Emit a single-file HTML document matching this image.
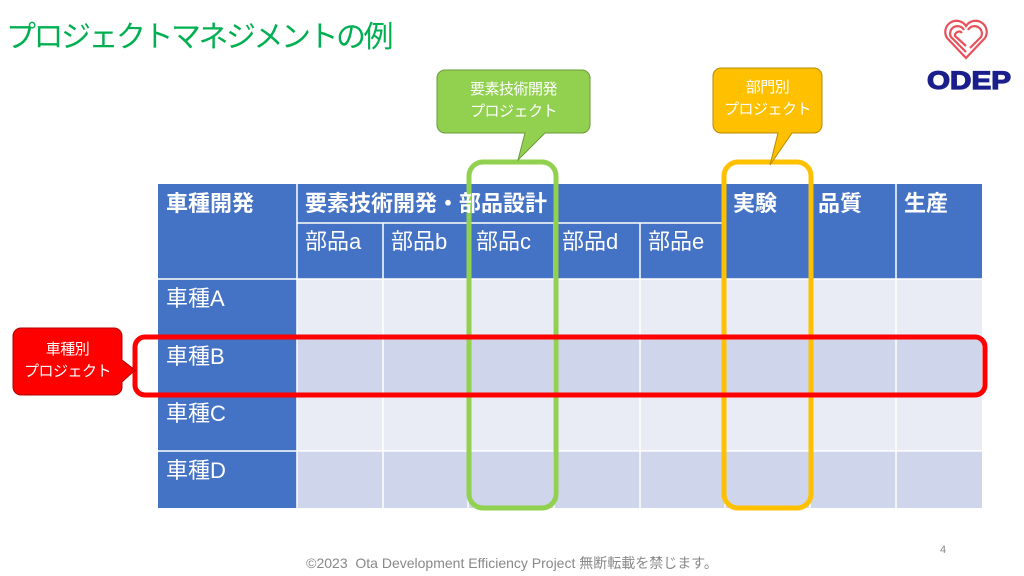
<!DOCTYPE html>
<html><head><meta charset="utf-8"><style>
body{margin:0;width:1024px;height:576px;background:#fff;position:relative;overflow:hidden;font-family:"Liberation Sans","Noto Sans CJK JP",sans-serif}
.a{position:absolute}
.c{position:absolute;color:#fff;font-size:22px;box-sizing:border-box;padding-left:8px;line-height:1}
.t{position:absolute;text-align:center;color:#fff;font-size:15px;line-height:22px;letter-spacing:-0.5px}
</style></head><body>
<div class="a" style="left:6px;top:12px;font-size:30px;color:#00b050;letter-spacing:-2.5px">プロジェクトマネジメントの例</div>
<svg class="a" style="left:0;top:0" width="1024" height="576">
<g fill="none" stroke="#e8505b" stroke-width="2.2">
<path d="M966 58 L947 38 A10 10 0 0 1 966 26 A10 10 0 0 1 985 38 Z"/>
<path d="M966 52 L951 37 A7 7 0 0 1 964 30"/>
<path d="M966 46 L955 36 A4 4 0 0 1 962 33"/>
<path d="M968 30 A7 7 0 0 1 981 37 L970 48"/>
</g>
<text x="969" y="89" font-family="Liberation Sans" font-weight="bold" font-size="25" fill="#1b1f8c" text-anchor="middle" stroke="#1b1f8c" stroke-width="1.2" textLength="84" lengthAdjust="spacingAndGlyphs">ODEP</text>
<rect x="158" y="184" width="824" height="95" fill="#4472c4"/>
<rect x="158" y="279" width="139" height="229" fill="#4472c4"/>
<rect x="297" y="279" width="685" height="58" fill="#e9ebf5"/>
<rect x="297" y="337" width="685" height="58" fill="#cfd5ea"/>
<rect x="297" y="395" width="685" height="56" fill="#e9ebf5"/>
<rect x="297" y="451" width="685" height="57" fill="#cfd5ea"/>
<g stroke="#fff" stroke-width="1.5">
<line x1="158" y1="279" x2="982" y2="279"/><line x1="158" y1="337" x2="982" y2="337"/>
<line x1="158" y1="395" x2="982" y2="395"/><line x1="158" y1="451" x2="982" y2="451"/>
<line x1="297" y1="223" x2="725" y2="223"/>
<line x1="297" y1="184" x2="297" y2="508"/><line x1="725" y1="184" x2="725" y2="508"/>
<line x1="810" y1="184" x2="810" y2="508"/><line x1="896" y1="184" x2="896" y2="508"/>
<line x1="383" y1="223" x2="383" y2="508"/><line x1="468" y1="223" x2="468" y2="508"/>
<line x1="554" y1="223" x2="554" y2="508"/><line x1="640" y1="223" x2="640" y2="508"/>
</g>
<rect x="469" y="162" width="87" height="346" rx="14" fill="none" stroke="#92d050" stroke-width="5"/>
<rect x="724" y="162" width="87" height="346" rx="14" fill="none" stroke="#ffc000" stroke-width="5"/>
<rect x="135" y="337" width="850" height="58" rx="10" fill="none" stroke="#ff0000" stroke-width="5"/>
<path d="M445 70 H582 A8 8 0 0 1 590 78 V125 A8 8 0 0 1 582 133 H545 L518 160 L525 133 H445 A8 8 0 0 1 437 125 V78 A8 8 0 0 1 445 70Z" fill="#92d050" stroke="#6a9a38" stroke-width="1"/>
<path d="M721 68 H814 A8 8 0 0 1 822 76 V125 A8 8 0 0 1 814 133 H792 L770 165 L778 133 H721 A8 8 0 0 1 713 125 V76 A8 8 0 0 1 721 68Z" fill="#ffc000" stroke="#b58a00" stroke-width="1"/>
<path d="M21 328 H114 A8 8 0 0 1 122 336 V360 L135 370 L122 382 V387 A8 8 0 0 1 114 395 H21 A8 8 0 0 1 13 387 V336 A8 8 0 0 1 21 328Z" fill="#ff0000" stroke="#b00000" stroke-width="1"/>
</svg>
<div class="t" style="left:437px;top:79px;width:153px">要素技術開発<br>プロジェクト</div>
<div class="t" style="left:713px;top:77px;width:109px">部門別<br>プロジェクト</div>
<div class="t" style="left:13px;top:339px;width:109px">車種別<br>プロジェクト</div>
<div class="c" style="left:158px;top:193px;font-weight:bold">車種開発</div>
<div class="c" style="left:297px;top:193px;font-weight:bold">要素技術開発・部品設計</div>
<div class="c" style="left:725px;top:193px;font-weight:bold">実験</div>
<div class="c" style="left:810px;top:193px;font-weight:bold">品質</div>
<div class="c" style="left:896px;top:193px;font-weight:bold">生産</div>
<div class="c" style="left:297px;top:231px">部品a</div>
<div class="c" style="left:383px;top:231px">部品b</div>
<div class="c" style="left:468px;top:231px">部品c</div>
<div class="c" style="left:554px;top:231px">部品d</div>
<div class="c" style="left:640px;top:231px">部品e</div>
<div class="c" style="left:158px;top:288px">車種A</div>
<div class="c" style="left:158px;top:346px">車種B</div>
<div class="c" style="left:158px;top:403px">車種C</div>
<div class="c" style="left:158px;top:460px">車種D</div>
<div class="a" style="left:0;width:1024px;top:553px;text-align:center;font-size:14px;color:#888">©2023&nbsp; Ota Development Efficiency Project 無断転載を禁じます。</div>
<div class="a" style="left:940px;top:544px;font-size:11px;color:#888">4</div>
</body></html>
